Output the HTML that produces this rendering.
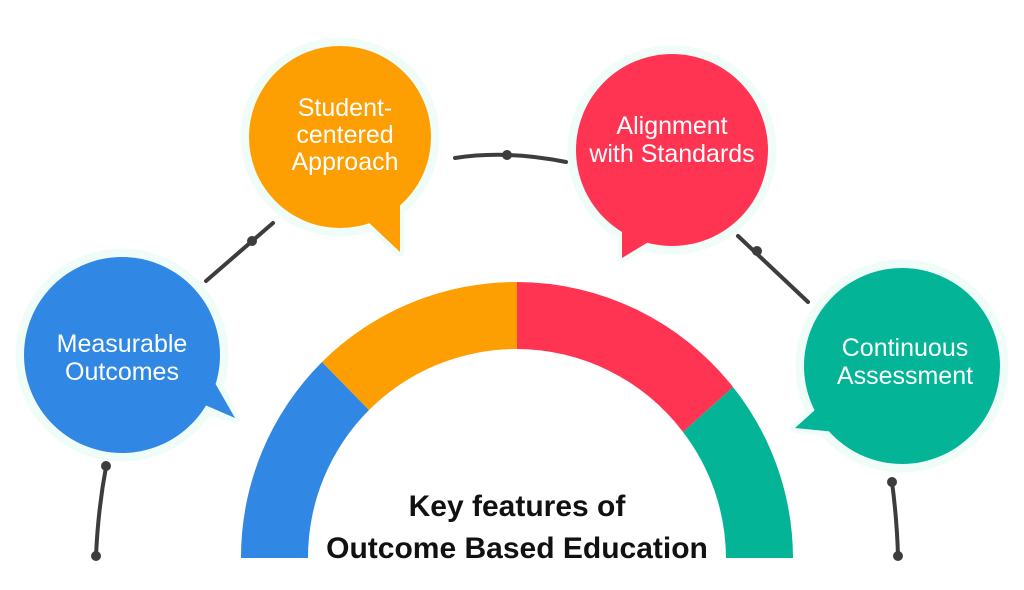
<!DOCTYPE html>
<html><head><meta charset="utf-8"><style>
html,body{margin:0;padding:0;background:#fff;}
svg{display:block;}
.t{font-family:"Liberation Sans",sans-serif;fill:#fff;font-size:25px;text-anchor:middle;}
.c{font-family:"Liberation Sans",sans-serif;fill:#111;font-size:30px;font-weight:bold;text-anchor:middle;}
</style></head><body>
<svg width="1024" height="590" viewBox="0 0 1024 590" xmlns="http://www.w3.org/2000/svg">
<g>
<path d="M241,558 A276,276 0 0 1 322,362 L369,410 A209,209 0 0 0 308,558 Z" fill="#3088e4"/>
<path d="M322,362 A276,276 0 0 1 517,282 L517,349 A209,209 0 0 0 369,410 Z" fill="#fd9e02"/>
<path d="M517,282 A276,276 0 0 1 733,387 L683,432 A209,209 0 0 0 517,349 Z" fill="#fe3452"/>
<path d="M733,387 A276,276 0 0 1 793,558 L726,558 A209,209 0 0 0 683,432 Z" fill="#03b497"/>
</g>
<g stroke="#3d3d3d" stroke-width="4" fill="none" stroke-linecap="round">
<path d="M206,281 L273,223"/>
<path d="M455,158 Q507,150 566,162"/>
<path d="M738,236 L808,302"/>
<path d="M106,467 Q98,510 96,556"/>
<path d="M892,482 Q897,520 898,556"/>
</g>
<g fill="#3d3d3d">
<circle cx="252" cy="241" r="5"/>
<circle cx="507" cy="155" r="5"/>
<circle cx="757" cy="251" r="5"/>
<circle cx="106" cy="466" r="5"/>
<circle cx="96" cy="556" r="5"/>
<circle cx="892" cy="482" r="5"/>
<circle cx="898" cy="556" r="5"/>
</g>
<g stroke="#effcf7" stroke-width="9" stroke-linejoin="round">
<circle cx="122" cy="355" r="102" fill="#3088e4"/>
<polygon points="205,410 235,418 218,385" fill="#3088e4"/>
<circle cx="340" cy="137" r="95" fill="#fd9e02"/>
<polygon points="368,222 400,252 400,205" fill="#fd9e02"/>
<circle cx="672" cy="150" r="100" fill="#fe3452"/>
<polygon points="622,222 622,258 652,240" fill="#fe3452"/>
<circle cx="902" cy="366" r="102" fill="#03b497"/>
<polygon points="822,405 795,428 832,432" fill="#03b497"/>
</g>
<g stroke="none">
<circle cx="122" cy="355" r="98" fill="#3088e4"/>
<polygon points="205,405 235,418 215,383" fill="#3088e4"/>
<circle cx="340" cy="137" r="91" fill="#fd9e02"/>
<polygon points="366,220 400,252 400,203" fill="#fd9e02"/>
<circle cx="672" cy="150" r="96" fill="#fe3452"/>
<polygon points="622,218 622,258 655,238" fill="#fe3452"/>
<circle cx="902" cy="366" r="98" fill="#03b497"/>
<polygon points="826,400 795,428 836,432" fill="#03b497"/>
</g>
<text class="t" x="122" y="352">Measurable</text>
<text class="t" x="122" y="380">Outcomes</text>
<text class="t" x="345" y="116">Student-</text>
<text class="t" x="345" y="143">centered</text>
<text class="t" x="345" y="170">Approach</text>
<text class="t" x="672" y="134">Alignment</text>
<text class="t" x="672" y="162">with Standards</text>
<text class="t" x="905" y="356">Continuous</text>
<text class="t" x="905" y="384">Assessment</text>
<text class="c" x="517" y="516">Key features of</text>
<text class="c" x="517" y="558">Outcome Based Education</text>
</svg>
</body></html>
